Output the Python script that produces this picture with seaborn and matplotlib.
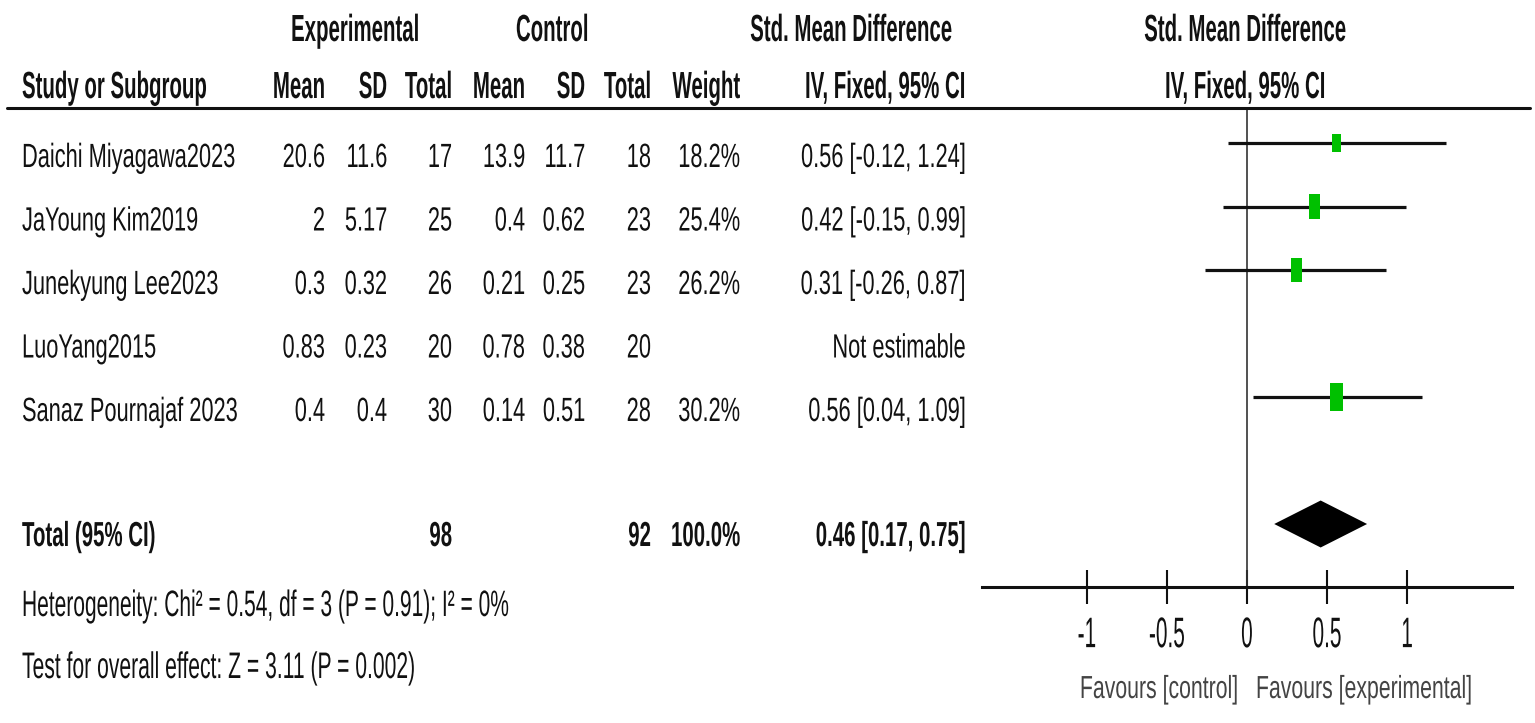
import numpy as np
import pandas as pd
import seaborn as sns
import matplotlib.pyplot as plt
from matplotlib.lines import Line2D
from matplotlib.patheffects import AbstractPathEffect
from matplotlib.transforms import Affine2D

W, H = 1535, 723

studies = ["Daichi Miyagawa2023", "JaYoung Kim2019", "Junekyung Lee2023", "LuoYang2015", "Sanaz Pournajaf 2023"]
exp_mean = ["20.6", "2", "0.3", "0.83", "0.4"]
exp_sd = ["11.6", "5.17", "0.32", "0.23", "0.4"]
exp_n = [17, 25, 26, 20, 30]
ctl_mean = ["13.9", "0.4", "0.21", "0.78", "0.14"]
ctl_sd = ["11.7", "0.62", "0.25", "0.38", "0.51"]
ctl_n = [18, 23, 23, 20, 28]
weight = [18.2, 25.4, 26.2, np.nan, 30.2]
smd = [0.56, 0.42, 0.31, np.nan, 0.56]
ci_lo = [-0.12, -0.15, -0.26, np.nan, 0.04]
ci_hi = [1.24, 0.99, 0.87, np.nan, 1.09]

total_exp, total_ctl = 98, 92
total_smd, total_lo, total_hi = 0.46, 0.17, 0.75
heterogeneity = "Heterogeneity: Chi² = 0.54, df = 3 (P = 0.91); I² = 0%"
overall = "Test for overall effect: Z = 3.11 (P = 0.002)"

ticks = [-1, -0.5, 0, 0.5, 1]
tick_labels = ["-1", "-0.5", "0", "0.5", "1"]


class Tall(AbstractPathEffect):
    # stretch glyphs upward from the baseline, the original uses a tall narrow face
    def __init__(self, k):
        super().__init__()
        self.k = k

    def draw_path(self, renderer, gc, tpath, affine, rgbFace=None):
        renderer.draw_path(gc, tpath, Affine2D().scale(1, self.k) + affine, rgbFace)


sns.set_style("white")
plt.rcParams['font.family'] = ['Liberation Sans', 'DejaVu Sans']

fig = plt.figure(figsize=(W / 100, H / 100), dpi=100)

# forest panel, placed in pixel terms
ax_l, ax_r, ax_t, ax_b = 982, 1512, 108, 587
ax = fig.add_axes([ax_l / W, 1 - ax_b / H, (ax_r - ax_l) / W, (ax_b - ax_t) / H])
row0, step = 143, 63.5
ax.set_ylim((ax_b - row0) / step, (ax_t - row0) / step)
ax.set_xlim(-1.655, 1.655)

df = pd.DataFrame({"study": studies, "smd": smd, "lo": ci_lo, "hi": ci_hi, "weight": weight})
df["row"] = np.arange(len(df))
est = df.dropna()

ax.axvline(0, color="#333333", lw=1.2, zorder=1)
ax.hlines(est["row"], est["lo"], est["hi"], color="#111111", lw=2.3, zorder=2)
rect = [(-0.46, -1), (0.46, -1), (0.46, 1), (-0.46, 1), (-0.46, -1)]
sns.scatterplot(data=est, x="smd", y="row", size="weight", sizes=(185, 380), size_norm=(18.2, 30.2),
                marker=rect, color="#00c000", linewidth=0, legend=False, ax=ax, zorder=3)

total_row = 6
dh = 0.37
ax.fill([total_lo, total_smd, total_hi, total_smd],
        [total_row, total_row - dh, total_row, total_row + dh], color="black", lw=0, zorder=3)

for s in ["top", "left", "right"]:
    ax.spines[s].set_visible(False)
ax.spines["bottom"].set_linewidth(2.2)
ax.spines["bottom"].set_color("#111111")
ax.set_yticks([])
ax.set_xticks(ticks)
ax.set_xticklabels(tick_labels)
ax.tick_params(axis="x", bottom=True, direction="inout", length=25, width=1.5, labelsize=15, pad=20,
               colors="#111111")
for lab in ax.get_xticklabels():
    lab.set_path_effects([Tall(2.05)])
ax.set_xlabel("")
ax.set_ylabel("")

fav_y = (ax_b - 698) / (ax_b - ax_t)
ax.text(-0.056, fav_y, "Favours [control]", transform=ax.get_xaxis_transform(), ha="right",
        va="baseline", fontsize=15.3, color="#444444", path_effects=[Tall(1.5)])
ax.text(0.056, fav_y, "Favours [experimental]", transform=ax.get_xaxis_transform(), ha="left",
        va="baseline", fontsize=15.3, color="#444444", path_effects=[Tall(1.5)])


def put(x, y, s, ha="right", bold=False, size=15.7, k=1.54, color="#111111"):
    fig.text(x / W, 1 - y / H, s, ha=ha, va="baseline", fontsize=size,
             fontweight="bold" if bold else "normal", color=color, path_effects=[Tall(k)])


# headers
hs, hk = 14.7, 1.85
for x, lab in [(355, "Experimental"), (552, "Control"), (851, "Std. Mean Difference"), (1245, "Std. Mean Difference")]:
    put(x, 41, lab, ha="center", bold=True, size=hs, k=hk)
hy = 98
put(22, hy, "Study or Subgroup", ha="left", bold=True, size=hs, k=hk)
cols_r = [325, 387, 452, 525, 585, 651, 740, 965]
for x, lab in zip(cols_r, ["Mean", "SD", "Total", "Mean", "SD", "Total", "Weight", "IV, Fixed, 95% CI"]):
    put(x, hy, lab, bold=True, size=hs, k=hk)
put(1245, hy, "IV, Fixed, 95% CI", ha="center", bold=True, size=hs, k=hk)
fig.add_artist(Line2D([7 / W, 1530 / W], [1 - ax_t / H] * 2, color="#111111", lw=2.2))

# study rows
for i in range(len(studies)):
    y = 167 + i * step
    put(22, y, studies[i], ha="left")
    vals = [exp_mean[i], exp_sd[i], str(exp_n[i]), ctl_mean[i], ctl_sd[i], str(ctl_n[i])]
    for x, v in zip(cols_r[:6], vals):
        put(x, y, v)
    if np.isnan(smd[i]):
        put(cols_r[7], y, "Not estimable")
    else:
        put(cols_r[6], y, f"{weight[i]:.1f}%")
        put(cols_r[7], y, f"{smd[i]:.2f} [{ci_lo[i]:.2f}, {ci_hi[i]:.2f}]")

ty = 546
put(22, ty, "Total (95% CI)", ha="left", bold=True, size=14.7, k=1.7)
put(cols_r[2], ty, str(total_exp), bold=True, size=14.7, k=1.7)
put(cols_r[5], ty, str(total_ctl), bold=True, size=14.7, k=1.7)
put(cols_r[6], ty, "100.0%", bold=True, size=14.7, k=1.7)
put(cols_r[7], ty, f"{total_smd:.2f} [{total_lo:.2f}, {total_hi:.2f}]", bold=True, size=14.7, k=1.7)
put(22, 616, heterogeneity, ha="left", size=15.1, k=1.75)
put(22, 678, overall, ha="left", size=15.2, k=1.75)

fig.savefig("out.png", dpi=100, facecolor="white")
